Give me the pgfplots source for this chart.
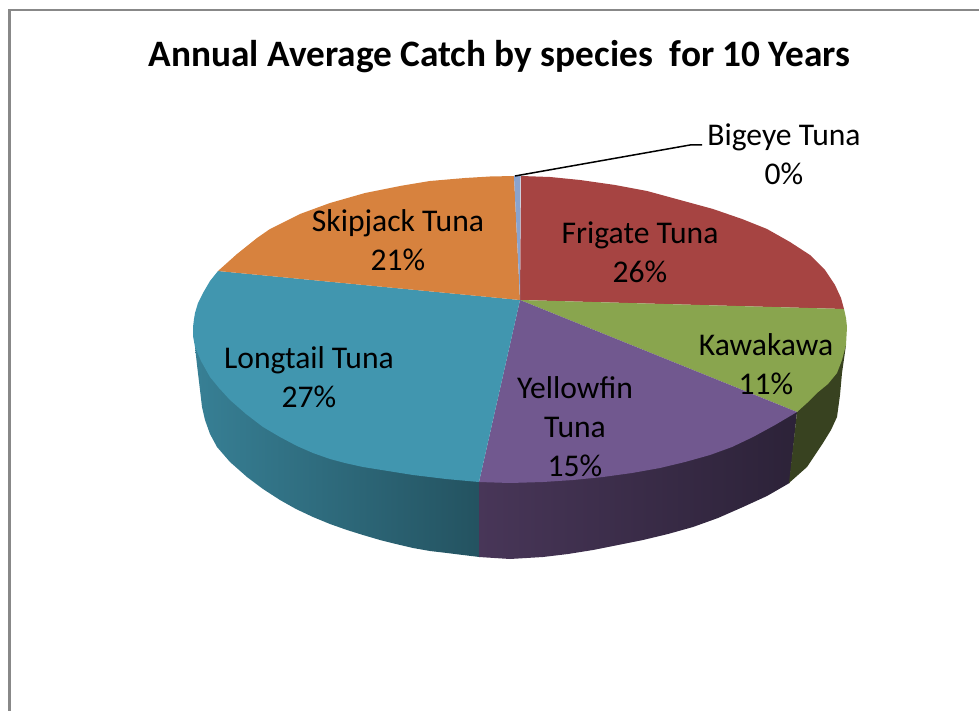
\documentclass[border=0pt]{standalone}
\usepackage{pgfplots}
\pgfplotsset{compat=1.18}
\usepackage{fontspec}
\setmainfont{Carlito}
\definecolor{frigate}{RGB}{166,68,66}
\definecolor{kawa}{RGB}{137,165,78}
\definecolor{yellowfin}{RGB}{113,88,143}
\definecolor{longtail}{RGB}{65,150,175}
\definecolor{skipjack}{RGB}{215,130,62}
\definecolor{bigeye}{RGB}{138,163,205}
\definecolor{kawaside}{RGB}{56,66,32}
\definecolor{frame}{RGB}{136,136,136}
\tikzset{lbl/.style={font=\fontsize{31.6}{39}\selectfont,align=center,text=black,inner sep=0pt}}
\begin{document}
\begin{tikzpicture}
\useasboundingbox (0,0) rectangle (979pt,711pt);
\begin{axis}[
  at={(0,0)}, anchor=south west,
  width=979pt, height=711pt, scale only axis,
  xmin=0, xmax=979, ymin=0, ymax=711, y dir=reverse,
  axis lines=none, clip=true,
  title={\textbf{Annual Average Catch by species\ \ for 10 Years}},
  title style={at={(0.5102,0.9125)},anchor=center,font=\fontsize{37.3}{44}\selectfont},
]
% frame
\addplot[draw=frame,line width=2.4pt] coordinates {(9.5,712) (9.5,10) (980,10)};
% sides
\addplot[draw=none,left color=longtail!85!black,right color=longtail!55!black] coordinates {
(195,347)(197,365)(200,390)(202,407)(205,420)(210,434)(217,447)(230,462)(247,477)(263,489)(280,500)(296,509)(313,517)(330,524)(347,530)(363,535)(380,540)(396,544)(413,548)(430,551)(447,553)(463,555)(479.5,557)(479.5,482)} --cycle;
\addplot[draw=none,left color={rgb,255:red,72;green,54;blue,88},right color={rgb,255:red,44;green,34;blue,56}] coordinates {
(479,482)(479,557)(510,559)(543,557)(568,554)(593,550)(618,545)(643,540)(668,534)(693,527)(718,518)(743,507)(767,496)(789.5,483)(797,412)} --cycle;
\addplot[draw=none,fill=kawaside] coordinates {
(797,412)(789,483)(807,467)(823,443)(831,430)(837,417)(840,395)(842,373)(846,345)} --cycle;
% top: slices
\addplot[draw=none,fill=frigate] coordinates {
(520,300)(521,176)(550,177)(580,180)(615,185)(647,191)(680,200)(713,209)(742,219)(767,229)(790,242)(810,255)(825,270)(835,285)(841,298)(844,309)} --cycle;
\addplot[draw=none,fill=kawa] coordinates {
(520,300)(844,309)(846,318)(847,327)(846.5,336)(846,345)(842,360)(837,373)(828,384)(817,393)(807,403)(797,412)} --cycle;
\addplot[draw=none,fill=yellowfin] coordinates {
(520,300)(797,412)(775,425)(753,437)(732,447)(710,455)(685,462)(660,468)(632,473)(603,477)(573,480)(543,482)(510,483)(479,482)} --cycle;
\addplot[draw=none,fill=longtail] coordinates {
(520,300)(479,482)(446,479)(413,475)(388,471)(363,467)(345,463)(330,459)(313,453)(297,446)(280,437)(263,427)(246,414)(230,400)(219,388)(210,377)(201,361)(195,347)(193,336)(193,327)(194,319)(195,313)(198,303)(203,293)(210,281)(218,271)} --cycle;
\addplot[draw=none,fill=skipjack] coordinates {
(520,300)(218,271)(237,254)(257,238)(270,229)(300,214)(330,203)(365,193)(400,186)(430,181)(465,178)(490,176.5)(514,176)} --cycle;
\addplot[draw=none,fill=bigeye] coordinates {
(520,300)(514,176)(517,175.8)(520.5,176)} --cycle;
% leader
\addplot[draw=black,line width=1.5pt] coordinates {(515,176) (690,145) (702,145)};
% labels
\node[lbl] at (axis cs:640,252) {Frigate Tuna\\26\%};
\node[lbl] at (axis cs:398,240) {Skipjack Tuna\\21\%};
\node[lbl] at (axis cs:766,364) {Kawakawa\\11\%};
\node[lbl] at (axis cs:309,377) {Longtail Tuna\\27\%};
\node[lbl] at (axis cs:575,427) {Yellowfin\\Tuna\\15\%};
\node[lbl] at (axis cs:784,154) {Bigeye Tuna\\0\%};
\end{axis}
\end{tikzpicture}
\end{document}
